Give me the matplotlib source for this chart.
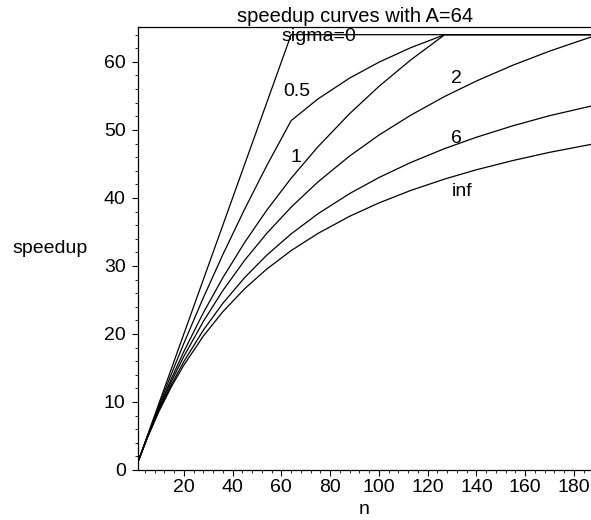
import matplotlib
matplotlib.use("Agg")
import matplotlib.pyplot as plt
from matplotlib.ticker import MultipleLocator

plt.rcParams['font.family'] = ['Liberation Sans', 'DejaVu Sans']

# values (speedup vs n, A=64)
n_sigma0 = [1, 64, 187]
s_sigma0 = [1.0, 64.0, 64.0]

n_half = [1, 5, 10, 15, 20, 28, 36, 45, 54, 64, 75, 88, 100, 113, 127, 187]
s_half = [1.00, 4.92, 9.66, 14.22, 18.62, 25.33, 31.67, 38.40, 44.74, 51.36,
          54.55, 57.62, 59.95, 62.08, 64.00, 64.00]

n_one = [1, 5, 10, 15, 20, 28, 36, 45, 54, 64, 75, 88, 100, 113, 127, 187]
s_one = [1.00, 4.85, 9.34, 13.52, 17.41, 23.12, 28.27, 33.49, 38.19, 42.89,
         47.52, 52.39, 56.39, 60.27, 64.00, 64.00]

n_grid = [1, 5, 10, 15, 20, 28, 36, 45, 54, 64, 75, 88, 100, 113, 127,
          140, 155, 170, 187]
s_two = [1.00, 4.80, 9.14, 13.09, 16.70, 21.85, 26.38, 30.86, 34.79, 38.64,
         42.35, 46.16, 49.23, 52.15, 54.92, 57.19, 59.52, 61.58, 63.66]
s_six = [1.00, 4.75, 8.92, 12.63, 15.94, 20.56, 24.51, 28.31, 31.58, 34.71,
         37.67, 40.64, 42.99, 45.20, 47.26, 48.92, 50.61, 52.09, 53.50]
s_inf = [1.00, 4.71, 8.77, 12.31, 15.42, 19.69, 23.27, 26.67, 29.54, 32.25,
         34.78, 37.30, 39.26, 41.09, 42.78, 44.14, 45.50, 46.70, 47.87]

curve_labels = ['sigma=0', '0.5', '1', '2', '6', 'inf']
label_x = [75.3, 66.3, 65.9, 131.9, 131.9, 134.3]
label_y = [63.8, 55.6, 45.9, 57.6, 48.8, 40.9]

fig = plt.figure(figsize=(5.91, 5.20), dpi=100)
ax = fig.add_axes([0.2327, 0.0962, 0.7673, 0.8528])

for xs, ys in [(n_sigma0, s_sigma0), (n_half, s_half), (n_one, s_one),
               (n_grid, s_two), (n_grid, s_six), (n_grid, s_inf)]:
    ax.plot(xs, ys, color='black', linewidth=0.9)

for txt, x, y in zip(curve_labels, label_x, label_y):
    ax.text(x, y, txt, fontsize=14, ha='center', va='center')

ax.set_xlim(1, 187)
ax.set_ylim(0, 65.2)
ax.set_xticks([20, 40, 60, 80, 100, 120, 140, 160, 180])
ax.xaxis.set_minor_locator(MultipleLocator(4))
ax.yaxis.set_major_locator(MultipleLocator(10))
ax.yaxis.set_minor_locator(MultipleLocator(2))
ax.tick_params(which='major', length=4.5, width=0.8, labelsize=14)
ax.tick_params(which='minor', length=2.5, width=0.6)
ax.tick_params(axis='x', which='major', pad=2)
ax.tick_params(axis='y', which='major', pad=4)

ax.spines['right'].set_visible(False)
for side in ['left', 'bottom', 'top']:
    ax.spines[side].set_linewidth(0.9)

ax.set_xlabel('n', fontsize=14, labelpad=3.5)
ax.set_ylabel('speedup', fontsize=14, rotation=0, ha='center', va='center')
ax.yaxis.set_label_coords(-0.193, 0.5)

fig.text(355 / 591, 1 - 17 / 520, 'speedup curves with A=64', fontsize=14.5,
         ha='center', va='center')

fig.savefig('out.png', dpi=100)
